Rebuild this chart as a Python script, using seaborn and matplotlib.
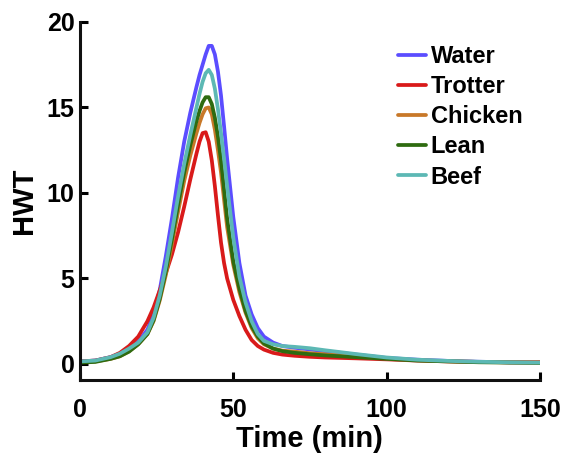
import pandas as pd
import seaborn as sns
import matplotlib.pyplot as plt

# tiempos de muestreo (min)
time = [0, 5, 10, 13, 16, 19, 22, 24, 26, 28, 30, 32, 34, 36, 38, 39, 40, 41, 42, 43, 44, 45, 46, 47,
        48, 50, 52, 54, 56, 58, 60, 63, 66, 70, 75, 80, 90, 100, 110, 120, 130, 140, 150]

water = [0.15, 0.2, 0.4, 0.6, 0.9, 1.3, 2.0, 2.9, 4.3, 6.3, 8.5, 10.9, 13.0, 14.7, 16.2, 16.9, 17.5, 18.1, 18.6, 18.6, 18.1, 17.1, 15.7, 13.9,
         12.0, 8.6, 5.9, 4.0, 2.9, 2.1, 1.6, 1.25, 1.05, 0.95, 0.85, 0.75, 0.55, 0.35, 0.25, 0.18, 0.13, 0.1, 0.1]
trotter = [0.15, 0.2, 0.4, 0.65, 1.05, 1.6, 2.5, 3.3, 4.3, 5.3, 6.4, 7.7, 9.2, 10.8, 12.3, 13.0, 13.5, 13.55, 13.0, 11.9, 10.4, 8.7, 7.1, 5.9,
           5.0, 3.75, 2.8, 2.0, 1.4, 1.05, 0.84, 0.65, 0.55, 0.48, 0.42, 0.38, 0.33, 0.27, 0.2, 0.15, 0.12, 0.1, 0.1]
chicken = [0.1, 0.15, 0.3, 0.45, 0.75, 1.15, 1.75, 2.5, 3.7, 5.2, 7.0, 8.9, 10.7, 12.2, 13.5, 14.1, 14.6, 14.95, 15.0, 14.6, 13.7, 12.5, 11.2, 9.6,
           8.0, 5.8, 4.2, 3.0, 2.1, 1.5, 1.15, 0.9, 0.78, 0.72, 0.63, 0.57, 0.44, 0.32, 0.22, 0.16, 0.12, 0.1, 0.1]
lean = [0.08, 0.12, 0.3, 0.45, 0.72, 1.15, 1.75, 2.55, 3.8, 5.4, 7.3, 9.3, 11.2, 12.8, 14.2, 14.8, 15.3, 15.6, 15.6, 15.2, 14.4, 13.3, 11.9, 10.2,
        8.5, 6.0, 4.4, 3.1, 2.2, 1.6, 1.2, 0.9, 0.75, 0.65, 0.57, 0.5, 0.4, 0.3, 0.2, 0.15, 0.1, 0.08, 0.06]
beef = [0.15, 0.2, 0.4, 0.6, 0.9, 1.25, 1.85, 2.7, 4.0, 5.7, 7.7, 9.8, 11.7, 13.4, 15.0, 15.8, 16.5, 17.0, 17.2, 16.9, 16.1, 14.9, 13.5, 12.0,
        10.4, 7.4, 5.1, 3.6, 2.5, 1.75, 1.35, 1.15, 1.05, 1.0, 0.92, 0.8, 0.58, 0.38, 0.25, 0.18, 0.13, 0.1, 0.08]

series = ['Water', 'Trotter', 'Chicken', 'Lean', 'Beef']
colors = ['#5b4dff', '#d91a1a', '#c87828', '#2e6b10', '#5cb8b4']

df = pd.concat([
    pd.DataFrame({'Time': time, 'HWT': vals, 'Sample': name})
    for name, vals in zip(series, [water, trotter, chicken, lean, beef])
])

sns.set_style('ticks')
plt.rcParams['font.family'] = ['Liberation Sans', 'DejaVu Sans']
plt.rcParams['font.weight'] = 'bold'
plt.rcParams['text.color'] = 'black'
plt.rcParams['axes.labelcolor'] = 'black'
plt.rcParams['xtick.color'] = 'black'
plt.rcParams['ytick.color'] = 'black'
plt.rcParams['axes.edgecolor'] = '#111111'

fig = plt.figure(figsize=(5.63, 4.57), dpi=100)
ax = fig.add_axes([0.142, 0.168, 0.817, 0.784])

sns.lineplot(data=df, x='Time', y='HWT', hue='Sample', hue_order=series,
             palette=colors, linewidth=2.7, ax=ax)

ax.set_xlim(0, 150)
ax.set_ylim(-0.95, 20)
ax.set_xticks([0, 50, 100, 150])
ax.set_yticks([0, 5, 10, 15, 20])
ax.set_xlabel('Time (min)', fontsize=21, fontweight='bold', labelpad=2)
ax.set_ylabel('HWT', fontsize=21, fontweight='bold', labelpad=6)
ax.tick_params(direction='in', length=6, width=2.2, labelsize=18)
ax.tick_params(axis='x', pad=13)
ax.tick_params(axis='y', pad=4)
for lab in ax.get_xticklabels() + ax.get_yticklabels():
    lab.set_fontweight('bold')
for s in ['left', 'bottom']:
    ax.spines[s].set_linewidth(2.2)
sns.despine(ax=ax)

leg = ax.legend(loc='upper left', bbox_to_anchor=(0.691, 0.935), frameon=False,
                fontsize=17, handlelength=1.2, handletextpad=0.2, labelspacing=0.3,
                borderpad=0, borderaxespad=0)
for t in leg.get_texts():
    t.set_fontweight('bold')
for h in leg.get_lines():
    h.set_linewidth(2.7)

fig.savefig('out.png', dpi=100)
plt.close()
